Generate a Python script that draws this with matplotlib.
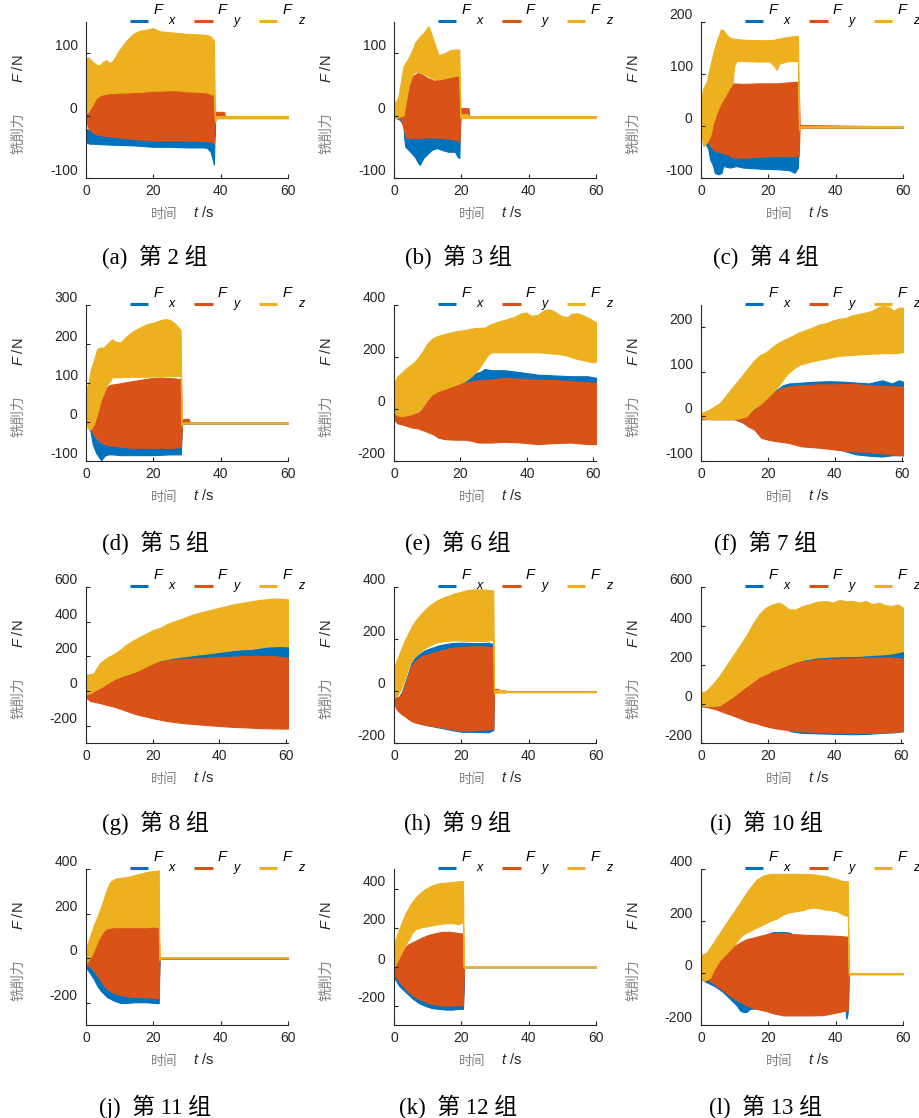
import matplotlib
matplotlib.use("Agg")
import matplotlib.pyplot as plt

plt.rcParams["font.family"] = ["Liberation Sans", "Noto Sans CJK SC"]
plt.rcParams["mathtext.fontset"] = "custom"
plt.rcParams["mathtext.it"] = "Liberation Sans:italic"
plt.rcParams["mathtext.rm"] = "Liberation Sans"

# ---------------------------------------------------------------------------
# Envelope of each force signal: time (s), upper edge and lower edge (N)
# ---------------------------------------------------------------------------
# (a) group 2
A_FX_T = [0, 0.5, 1, 2, 5, 10, 15, 20, 25, 30, 35, 36, 37, 38, 38.3, 60]
A_FX_HI = [-22, -22, -24, -28, -30, -30, -32, -33, -33, -33, -33, -33, -35, -40, -2, -2]
A_FX_LO = [-42, -44, -45, -45, -46, -47, -48, -50, -50, -51, -51, -52, -58, -78, -4, -4]
A_FY_T = [0, 0.5, 1, 2, 3, 4, 5, 10, 15, 20, 26, 30, 36, 37.5, 38, 38.3, 41, 41.3, 60]
A_FY_HI = [3, 4, 6, 20, 30, 33, 35, 38, 39, 40, 42, 39, 38, 35, 33, 6, 6, -1, -1]
A_FY_LO = [0, -18, -22, -27, -30, -31, -32, -35, -38, -40, -40, -40, -41, -42, -45, -2, -2, -3, -3]
A_FZ_T = [0, 0.5, 1, 2, 3, 4, 5, 6, 7, 8, 10, 12, 14, 16, 18, 20, 22, 26, 30, 34, 36, 37, 38, 38.3, 39, 60]
A_FZ_HI = [92, 93, 92, 86, 82, 80, 86, 89, 84, 88, 106, 120, 131, 136, 138, 140, 135, 133, 131, 130, 129, 127, 120, -1, -1, -1]
A_FZ_LO = [3, 6, 10, 18, 28, 32, 34, 35, 36, 36, 37, 37, 38, 38, 39, 40, 40, 41, 39, 38, 37, 35, 33, -10, -4, -4]

# (b) group 3
B_FX_T = [0, 1.8, 2.8, 3.1, 3.4, 4.3, 5.2, 6.2, 7.2, 7.7, 8.7, 10.2, 11.2, 12.7, 14.2, 16.1, 18.1, 18.9, 19.4, 19.7, 60]
B_FX_HI = [0, -3, -5, -25, -30, -30, -30, -30, -30, -30, -30, -30, -30, -30, -30, -30, -30, -30, -30, -1, -1]
B_FX_LO = [-2, -7, -15, -39, -50, -55, -60, -66, -76, -79, -68, -60, -55, -52, -55, -58, -58, -66, -68, -3, -3]
B_FY_T = [0, 2, 3, 3.5, 4, 5, 6, 7, 8, 10, 12, 14, 16, 18, 19.5, 19.7, 22.1, 22.4, 60]
B_FY_HI = [0, 1, 14, 36, 52, 60, 65, 68, 67, 60, 56, 58, 61, 64, 63, 12, 12, -1, -1]
B_FY_LO = [-2, -5, -23, -34, -36, -36, -36, -36, -36, -35, -35, -36, -37, -38, -42, 3, 3, -3, -3]
B_FZ_T = [0, 0.8, 1.3, 2.8, 4.3, 5.7, 6.2, 7.7, 8.7, 10.2, 10.7, 11.7, 13.2, 15.1, 16.6, 18.6, 19.4, 19.7, 22, 22.3, 60]
B_FZ_HI = [20, 25, 30, 79, 92, 108, 116, 127, 132, 143, 137, 121, 97, 100, 105, 106, 105, 2, 2, -1, -1]
B_FZ_LO = [-4, -4, -2, 0, 47, 68, 70, 70, 67, 63, 61, 59, 58, 60, 62, 64, 64, -4, -4, -4, -4]

# (c) group 4
C_FX_T = [0, 1.2, 2.2, 2.7, 3.6, 4.1, 5.1, 6.1, 6.6, 8.6, 10.5, 12.5, 17.4, 22.4, 26.3, 27.8, 28.8, 29.1, 60]
C_FX_HI = [-10, -20, -30, -40, -40, -40, -40, -40, -40, -40, -40, -40, -40, -40, -40, -40, -40, -1, -1]
C_FX_LO = [-12, -32, -45, -64, -77, -90, -93, -90, -77, -80, -77, -80, -82, -83, -85, -90, -80, -3, -3]
C_FY_T = [0, 2.2, 3.2, 4.1, 5.6, 7.1, 8.6, 9.4, 12.5, 17.4, 22.4, 28.3, 29.0, 29.3, 60]
C_FY_HI = [-10, -26, 6, 25, 41, 57, 75, 82, 81, 82, 82, 85, 85, 2, -1]
C_FY_LO = [-12, -32, -42, -48, -50, -53, -57, -60, -61, -59, -58, -58, -58, -3, -3]
C_FZ_T = [0, 0.7, 1.7, 2.7, 3.6, 4.6, 5.6, 5.9, 6.6, 7.1, 7.6, 8.6, 9.4, 9.8, 10.5, 12.5, 16.5, 20.4, 21.9, 22.4, 23.3, 25.3, 28.3, 28.8, 29.1, 29.5, 60]
C_FZ_HI = [50, 73, 85, 114, 139, 162, 180, 186, 184, 180, 175, 170, 168, 168, 167, 166, 165, 165, 166, 167, 168, 171, 173, 173, -2, 0, 0]
C_FZ_LO = [-10, -39, -32, -20, 6, 25, 41, 44, 52, 57, 63, 75, 82, 114, 125, 125, 124, 124, 114, 108, 120, 124, 125, 125, -8, -3, -3]

# (d) group 5
D_FX_T = [0, 1.3, 2, 3, 4, 4.5, 5.5, 6.5, 8, 10, 15, 20, 25, 28.2, 28.4, 60]
D_FX_HI = [3, -10, -30, -45, -50, -50, -50, -50, -50, -50, -50, -50, -50, -50, -2, -2]
D_FX_LO = [2, -23, -57, -79, -92, -98, -87, -83, -83, -85, -85, -85, -83, -83, -4, -4]
D_FY_T = [0, 1, 2, 3, 4, 5, 6, 7, 10, 14, 19, 22, 26, 28.2, 28.5, 30.5, 30.8, 60]
D_FY_HI = [0, 2, 8, 30, 55, 75, 87, 95, 99, 105, 112, 114, 112, 110, 8, 8, -1, -1]
D_FY_LO = [0, -15, -27, -40, -49, -55, -58, -60, -63, -66, -66, -66, -66, -64, -3, -3, -3, -3]
D_FZ_T = [0, 0.5, 0.8, 1.3, 2.3, 3.3, 4.3, 5.3, 6.3, 7.2, 7.7, 8.7, 10.2, 12.2, 14.2, 16.2, 18.2, 20.1, 22.1, 23.6, 25.1, 26.6, 28.1, 28.4, 29, 60]
D_FZ_HI = [80, 95, 105, 130, 157, 187, 191, 191, 200, 208, 212, 206, 204, 221, 234, 243, 251, 255, 261, 264, 261, 251, 236, -6, -1, -1]
D_FZ_LO = [11, -15, -17, -19, -6, 20, 54, 75, 97, 105, 115, 115, 115, 116, 116, 116, 116, 117, 117, 118, 118, 118, 118, -10, -4, -4]

# (e) group 6
E_FX_T = [0, 7.3, 8.3, 9.3, 10.3, 11.8, 13.3, 15.3, 18.3, 20.3, 22.3, 24.3, 26.3, 27.3, 29.3, 33.3, 38.3, 43.3, 48.3, 53.3, 58.3, 60.8]
E_FX_HI = [-20, -20, -6, 13, 34, 57, 70, 78, 92, 104, 120, 136, 145, 154, 149, 149, 141, 132, 129, 126, 126, 120]
E_FX_LO = [-35, -70, -75, -80, -85, -92, -104, -110, -113, -113, -115, -120, -124, -124, -124, -121, -124, -130, -126, -124, -130, -130]
E_FY_T = [0, 1, 2.3, 3.8, 5.3, 7.3, 8.3, 9.3, 10.3, 11.8, 13.3, 15.3, 18.3, 21.3, 23.3, 25.3, 29.3, 33.3, 38.3, 43.3, 48.3, 53.3, 58.3, 60.8]
E_FY_HI = [-8, -14, -14, -14, -14, -14, -1, 18, 39, 62, 75, 82, 90, 101, 106, 110, 113, 120, 116, 113, 111, 107, 103, 101]
E_FY_LO = [-40, -55, -59, -65, -71, -75, -80, -84, -90, -97, -110, -116, -118, -118, -122, -129, -129, -126, -129, -135, -131, -129, -135, -135]
E_FZ_T = [0, 1, 2.3, 3.8, 5.3, 6.8, 8.3, 9.8, 11.3, 12.8, 13.3, 15.3, 17.3, 18.3, 19.3, 21.3, 23.3, 24.3, 25.3, 27.3,
          28.3, 29.3, 31.3, 33.3, 36.3, 38.3, 39.8, 41.3, 43.3, 45.3, 46.8, 48.3, 50.3, 52.3, 53.3, 55.3, 57.3, 58.8, 60.3, 60.8]
E_FZ_HI = [101, 126, 139, 158, 171, 190, 215, 247, 269, 279, 281, 289, 295, 298, 300, 304, 309, 311, 312, 313,
           320, 327, 336, 343, 355, 368, 371, 358, 362, 381, 383, 375, 358, 353, 366, 368, 358, 349, 336, 336]
E_FZ_LO = [-14, -24, -27, -24, -20, -11, 5, 31, 56, 66, 69, 78, 88, 92, 96, 107, 126, 139, 152, 190,
           209, 218, 218, 218, 218, 218, 218, 218, 218, 216, 214, 213, 210, 205, 200, 192, 187, 182, 180, 183]

# (f) group 7
F_FX_T = [0, 10, 14, 16, 17.5, 19.5, 22.5, 24.5, 26.4, 30.4, 34.4, 38.3, 42.3, 46.2, 50.2, 54.2, 57.1, 59.1, 60.4]
F_FX_HI = [-4, -4, 5, 17, 26, 40, 59, 70, 74, 76, 78, 79, 78, 76, 74, 81, 74, 81, 78]
F_FX_LO = [-6, -6, -18, -26, -36, -44, -50, -53, -56, -63, -68, -71, -76, -85, -88, -90, -87, -87, -86]
F_FY_T = [0, 10, 12, 14, 16, 18, 20, 22, 24, 26, 30, 35, 40, 45, 50, 55, 60.4]
F_FY_HI = [-4, -4, 0, 7, 15, 30, 45, 55, 63, 67, 70, 72, 72, 73, 70, 68, 67]
F_FY_LO = [-6, -6, -11, -22, -30, -48, -52, -55, -57, -59, -67, -70, -74, -78, -80, -83, -88]
F_FZ_T = [0, 2.7, 5.6, 7.6, 9.6, 11.6, 13.6, 15.5, 17.5, 19.5, 21.5, 23.5, 25.4, 27.4, 29.4, 31.4,
          33.4, 35.3, 37.3, 39.3, 41.3, 43.3, 45.2, 47.2, 49.2, 51.2, 52.7, 54.2, 56.1, 57.6, 59.1, 60.4]
F_FZ_HI = [7, 16, 30, 48, 67, 85, 104, 122, 137, 144, 157, 167, 174, 181, 189, 194,
           200, 206, 209, 215, 219, 221, 227, 230, 233, 237, 244, 248, 246, 237, 244, 244]
F_FZ_LO = [-4, -6, -6, -6, -6, -4, 0, 17, 26, 40, 55, 72, 92, 106, 116, 120,
           124, 127, 130, 133, 136, 137, 138, 139, 140, 141, 141, 142, 142, 142, 143, 144]

# (g) group 8
G_FX_T = [0, 14.2, 18.2, 22.2, 26.2, 30.1, 34.1, 38.1, 42.1, 46.1, 50, 54, 58, 60.6]
G_FX_HI = [-25, 100, 144, 177, 192, 202, 212, 221, 231, 240, 244, 256, 260, 258]
G_FX_LO = [-30, -120, -140, -155, -170, -178, -184, -190, -196, -198, -202, -205, -207, -207]
G_FY_T = [0, 1.3, 2.3, 4.3, 6.3, 8.3, 10.2, 12.2, 14.2, 16.2, 18.2, 20.2, 22.2, 24.2, 28.2, 32.1, 36.1, 40.1, 44.1, 48.1, 52, 56, 60.6]
G_FY_HI = [-19, -8, 0, 19, 44, 67, 83, 96, 115, 135, 148, 160, 169, 177, 183, 188, 192, 196, 198, 202, 202, 202, 192]
G_FY_LO = [-38, -58, -62, -70, -81, -90, -102, -115, -129, -140, -148, -158, -165, -173, -183, -190, -196, -202, -207, -210, -214, -216, -217]
G_FZ_T = [0, 1.3, 2.3, 3.3, 4.3, 6.3, 8.3, 10.2, 12.2, 14.2, 16.2, 18.2, 20.2, 22.2, 24.2, 26.2, 28.2,
          30.1, 32.1, 34.1, 36.1, 38.1, 40.1, 42.1, 44.1, 46.1, 48.1, 50, 52, 54, 56, 58, 60.6]
G_FZ_HI = [96, 96, 102, 135, 163, 192, 212, 237, 269, 292, 313, 333, 352, 365, 385, 400, 413,
           427, 442, 452, 462, 471, 481, 490, 500, 506, 513, 519, 525, 529, 533, 533, 529]
G_FZ_LO = [-20, -12, 0, 10, 19, 44, 67, 83, 96, 108, 125, 144, 162, 177, 185, 192, 197,
           202, 207, 212, 216, 221, 226, 231, 236, 240, 242, 244, 250, 256, 258, 260, 258]

# (h) group 9
H_FX_T = [0, 1.3, 2.3, 3.3, 4.3, 5.2, 6.2, 7.7, 9.2, 11.2, 13.2, 15.1, 17.1, 20.1, 23.1, 26, 28, 29.5, 29.7, 60]
H_FX_HI = [-19, -25, -6, 32, 70, 108, 127, 144, 157, 166, 175, 180, 184, 186, 184, 184, 186, 180, -2, -2]
H_FX_LO = [-40, -65, -85, -95, -105, -115, -118, -125, -130, -135, -140, -145, -150, -157, -157, -158, -159, -150, -4, -4]
H_FY_T = [0, 0.1, 0.8, 1.3, 2.3, 3.3, 4.3, 5.2, 6.2, 8.2, 11.2, 14.2, 17.1, 20.1, 23.1, 26, 29, 29.5, 29.7, 31, 31.3, 60]
H_FY_HI = [-19, -19, -22, -25, -13, 25, 64, 96, 115, 134, 146, 157, 166, 169, 172, 172, 169, 169, 8, 8, -1, -1]
H_FY_LO = [-19, -51, -70, -78, -89, -98, -108, -115, -121, -127, -134, -140, -146, -153, -153, -149, -146, -146, -3, -3, -3, -3]
H_FZ_T = [0, 0.1, 0.3, 0.8, 1.3, 1.8, 2.3, 2.8, 3.3, 3.8, 4.8, 5.7, 6.2, 7.2, 8.2, 9.2, 10.2, 11.2, 12.2,
          13.2, 14.2, 15.1, 16.1, 17.1, 18.1, 20.1, 22.1, 24.1, 26, 28, 29, 29.5, 29.7, 31, 33, 33.3, 60]
H_FZ_HI = [96, 98, 102, 118, 134, 150, 166, 182, 197, 210, 236, 258, 268, 284, 299, 312, 325, 335, 344,
           351, 357, 362, 366, 371, 376, 382, 389, 391, 391, 389, 387, 386, 2, 4, 4, -1, -1]
H_FZ_LO = [0, -25, -24, -19, -10, 0, 16, 32, 51, 70, 108, 127, 132, 146, 156, 166, 172, 178, 185,
           189, 190, 192, 193, 195, 195, 194, 193, 193, 192, 194, 196, 196, -8, -6, -6, -4, -4]

# (i) group 10
I_FX_T = [0, 5, 7, 9, 11, 13, 15, 17, 19, 21, 23, 25, 27, 30, 34, 38, 42, 46, 50, 54, 58, 60.5]
I_FX_HI = [-10, -10, 2, 27, 52, 78, 103, 128, 146, 163, 175, 188, 203, 224, 236, 241, 244, 244, 248, 253, 260, 268]
I_FX_LO = [-12, -15, -30, -45, -60, -75, -85, -95, -105, -115, -120, -127, -140, -148, -150, -152, -154, -155, -153, -148, -145, -140]
I_FY_T = [0, 2.5, 4.5, 6.5, 8.5, 10.5, 12.5, 14.5, 16.5, 18.4, 20.4, 22.4, 24.4, 26.4, 28.4, 32.4, 36.4, 40.4, 44.4, 48.3, 52.3, 56.3, 60.5]
I_FY_HI = [-7, -7, -7, 5, 30, 55, 82, 107, 131, 148, 167, 180, 192, 205, 215, 222, 228, 232, 234, 236, 238, 240, 232]
I_FY_LO = [-7, -19, -27, -41, -53, -65, -79, -91, -99, -109, -118, -125, -130, -133, -138, -142, -144, -147, -147, -147, -147, -144, -138]
I_FZ_T = [0, 1.5, 3.5, 5.5, 7.5, 9.5, 11.5, 13.5, 15.5, 17.4, 19.4, 21.4, 23.4, 24.4, 26.4, 28.4,
          30.4, 32.4, 34.4, 37.4, 39.4, 41.4, 43.4, 45.4, 47.4, 49.4, 51.4, 53.3, 55.3, 57.3, 58.8, 60.5]
I_FZ_HI = [58, 67, 101, 144, 195, 246, 297, 349, 409, 460, 494, 511, 520, 511, 485, 485,
           503, 511, 523, 528, 520, 533, 528, 528, 520, 528, 511, 520, 506, 503, 511, 494]
I_FZ_LO = [-7, -10, -10, -7, 15, 38, 64, 90, 115, 139, 154, 172, 184, 191, 205, 218,
           226, 232, 238, 242, 244, 245, 246, 246, 247, 250, 252, 254, 256, 260, 265, 272]

# (j) group 11
J_FX_T = [0, 0.3, 1.3, 2.3, 3.3, 4.3, 5.3, 6.3, 8.2, 10.2, 12.2, 14.2, 18.2, 20.1, 21.6, 21.8, 60]
J_FX_HI = [-10, -20, -30, -40, -60, -80, -100, -110, -130, -140, -145, -145, -145, -145, -145, 1, 1]
J_FX_LO = [-25, -48, -70, -93, -123, -145, -160, -175, -190, -201, -201, -198, -198, -201, -202, -2, -2]
J_FY_T = [0, 0.3, 1.3, 2.3, 3.3, 4.3, 5.3, 6.3, 8.2, 10.2, 12.2, 14.2, 16.2, 18.2, 20.1, 21.6, 21.8, 60]
J_FY_HI = [-1, -16, 6, 36, 74, 104, 126, 137, 141, 141, 141, 141, 141, 141, 144, 141, 3, 3]
J_FY_LO = [-18, -30, -40, -55, -78, -100, -123, -138, -156, -165, -171, -174, -175, -175, -178, -180, -1, -1]
J_FZ_T = [0, 0.3, 1.3, 2.3, 3.3, 4.3, 5.3, 6.3, 7.2, 8.2, 8.7, 10.2, 12.2, 14.2, 16.2, 18.2, 20.1, 21.6, 21.8, 22.3, 60]
J_FZ_HI = [57, 57, 102, 147, 184, 222, 267, 312, 342, 352, 357, 360, 364, 372, 379, 387, 391, 394, 0, 4, 4]
J_FZ_LO = [-3, -18, 4, 34, 72, 102, 124, 135, 137, 139, 139, 139, 139, 139, 139, 139, 142, 139, -10, 0, 0]

# (k) group 12
K_FX_T = [0, 0.3, 1.5, 3.5, 5.4, 7.4, 9.4, 11.4, 13.3, 15.3, 17.3, 19.2, 20.2, 20.5, 20.8, 60]
K_FX_HI = [0, -20, -40, -60, -80, -100, -120, -140, -150, -150, -150, -150, -150, -150, -2, -2]
K_FX_LO = [-38, -64, -98, -132, -163, -188, -203, -214, -217, -221, -221, -217, -217, -217, -4, -4]
K_FY_T = [0, 0.3, 1, 1.5, 2.5, 3.5, 4.4, 6.4, 8.4, 10.4, 12.3, 14.3, 16.3, 18.3, 20.2, 20.5, 20.8, 60]
K_FY_HI = [4, 8, 20, 38, 72, 103, 115, 132, 149, 163, 171, 178, 178, 174, 169, 169, -1, -1]
K_FY_LO = [-4, -47, -64, -75, -98, -115, -132, -157, -174, -188, -195, -200, -200, -200, -197, -197, -3, -3]
K_FZ_T = [0, 0.3, 0.5, 1.5, 2.5, 3.5, 4.4, 4.9, 5.4, 6.4, 7.9, 9.4, 11.4, 13.3, 15.3, 17.3, 19.2, 20.2, 20.5, 20.7, 21.2, 60]
K_FZ_HI = [106, 120, 140, 191, 234, 277, 300, 319, 330, 353, 379, 399, 416, 426, 430, 433, 437, 438, 438, 0, 0, 0]
K_FZ_LO = [4, -4, 13, 47, 81, 115, 140, 157, 174, 191, 200, 205, 212, 217, 222, 222, 217, 226, 226, -8, -5, -5]

# (l) group 13
L_FX_T = [0, 1.7, 2.7, 3.7, 4.6, 6.6, 8.6, 10.6, 11.6, 12.5, 13.5, 14.5, 17.5, 19.5, 21.4, 24.4,
          26.4, 28.4, 32.3, 36.3, 40.2, 42.9, 43.2, 43.6, 43.9, 60]
L_FX_HI = [-18, -24, -28, -10, 30, 60, 90, 100, 105, 110, 115, 120, 133, 149, 157, 158,
           155, 139, 136, 135, 133, 130, 130, 130, -2, -2]
L_FX_LO = [-23, -36, -42, -48, -55, -74, -99, -125, -144, -150, -150, -138, -135, -135, -145, -150,
           -150, -150, -150, -150, -145, -140, -176, -150, -4, -4]
L_FY_T = [0, 2.5, 3.7, 5.6, 7.6, 9.6, 11.6, 13.5, 15.5, 17.5, 19.5, 21.4, 24.4, 28.4, 32.3, 36.3, 40.2, 43.2, 43.6, 43.9, 60]
L_FY_HI = [-20, -23, 9, 47, 73, 102, 117, 130, 136, 143, 149, 152, 153, 149, 146, 145, 143, 140, 140, -1, -1]
L_FY_LO = [-22, -29, -40, -58, -77, -97, -110, -125, -135, -141, -147, -155, -163, -163, -163, -162, -152, -144, -144, -3, -3]
L_FZ_T = [0, 0.7, 1.7, 2.7, 3.7, 4.6, 5.6, 6.6, 7.6, 8.6, 9.6, 10.6, 11.1, 12.5, 14.5, 16.5, 18.5,
          20.5, 22.4, 24.4, 26.4, 28.4, 30.3, 32.3, 34.3, 36.3, 37.3, 38.2, 40.2, 42.2, 43.6, 43.9, 44.3, 60]
L_FZ_HI = [66, 73, 79, 98, 117, 136, 155, 175, 194, 213, 232, 251, 260, 289, 327, 359, 375,
           381, 381, 381, 381, 381, 381, 380, 378, 374, 372, 368, 362, 353, 353, 0, 0, 0]
L_FZ_LO = [-20, -30, -25, -18, 12, 30, 50, 63, 76, 90, 104, 120, 130, 149, 162, 175, 187,
           200, 209, 225, 234, 238, 242, 251, 251, 245, 244, 242, 238, 225, 219, -10, -5, -5]

LETTERS = ["a", "b", "c", "d", "e", "f", "g", "h", "i", "j", "k", "l"]
GROUPS = [2, 3, 4, 5, 6, 7, 8, 9, 10, 11, 12, 13]
YLIMS = [(-100, 150), (-100, 150), (-100, 200), (-100, 300), (-200, 400), (-100, 250),
         (-300, 600), (-200, 400), (-200, 600), (-300, 400), (-300, 500), (-200, 400)]
YTICKS = [[-100, 0, 100], [-100, 0, 100], [-100, 0, 100, 200], [-100, 0, 100, 200, 300],
          [-200, 0, 200, 400], [-100, 0, 100, 200], [-200, 0, 200, 400, 600], [-200, 0, 200, 400],
          [-200, 0, 200, 400, 600], [-200, 0, 200, 400], [-200, 0, 200, 400], [-200, 0, 200, 400]]
XTICKS = [0, 20, 40, 60]

SERIES = [
    ((A_FX_T, A_FX_HI, A_FX_LO), (A_FY_T, A_FY_HI, A_FY_LO), (A_FZ_T, A_FZ_HI, A_FZ_LO)),
    ((B_FX_T, B_FX_HI, B_FX_LO), (B_FY_T, B_FY_HI, B_FY_LO), (B_FZ_T, B_FZ_HI, B_FZ_LO)),
    ((C_FX_T, C_FX_HI, C_FX_LO), (C_FY_T, C_FY_HI, C_FY_LO), (C_FZ_T, C_FZ_HI, C_FZ_LO)),
    ((D_FX_T, D_FX_HI, D_FX_LO), (D_FY_T, D_FY_HI, D_FY_LO), (D_FZ_T, D_FZ_HI, D_FZ_LO)),
    ((E_FX_T, E_FX_HI, E_FX_LO), (E_FY_T, E_FY_HI, E_FY_LO), (E_FZ_T, E_FZ_HI, E_FZ_LO)),
    ((F_FX_T, F_FX_HI, F_FX_LO), (F_FY_T, F_FY_HI, F_FY_LO), (F_FZ_T, F_FZ_HI, F_FZ_LO)),
    ((G_FX_T, G_FX_HI, G_FX_LO), (G_FY_T, G_FY_HI, G_FY_LO), (G_FZ_T, G_FZ_HI, G_FZ_LO)),
    ((H_FX_T, H_FX_HI, H_FX_LO), (H_FY_T, H_FY_HI, H_FY_LO), (H_FZ_T, H_FZ_HI, H_FZ_LO)),
    ((I_FX_T, I_FX_HI, I_FX_LO), (I_FY_T, I_FY_HI, I_FY_LO), (I_FZ_T, I_FZ_HI, I_FZ_LO)),
    ((J_FX_T, J_FX_HI, J_FX_LO), (J_FY_T, J_FY_HI, J_FY_LO), (J_FZ_T, J_FZ_HI, J_FZ_LO)),
    ((K_FX_T, K_FX_HI, K_FX_LO), (K_FY_T, K_FY_HI, K_FY_LO), (K_FZ_T, K_FZ_HI, K_FZ_LO)),
    ((L_FX_T, L_FX_HI, L_FX_LO), (L_FY_T, L_FY_HI, L_FY_LO), (L_FZ_T, L_FZ_HI, L_FZ_LO)),
]

COLORS = ["#0072BD", "#D95319", "#EDB120"]
SUBS = ["x", "y", "z"]
DARK = "#262626"
GRAY = "#808080"

# layout in pixels
W, H = 920, 1118
COL_X = [86, 394, 701]
ROW_Y = [22, 305, 587, 869]
AX_W, AX_H = 202, 156
CAP_X = [155, 458, 766]
CAP_Y = [257, 543, 823, 1107]


def add_legend(ax):
    """MATLAB-like horizontal legend sitting on top of the axes."""
    for k, (c, sub) in enumerate(zip(COLORS, SUBS)):
        x0 = 0.218 + 0.319 * k
        ax.plot([x0, x0 + 0.09], [1.006, 1.006], transform=ax.transAxes,
                color=c, lw=2.2, clip_on=False, solid_capstyle="butt")
        ax.text(x0 + 0.138, 1.050, "F", transform=ax.transAxes, style="italic",
                fontsize=10.5, color="black", ha="center", va="baseline")
        ax.text(x0 + 0.208, 0.990, sub, transform=ax.transAxes, style="italic",
                fontsize=9, color="black", ha="center", va="baseline")


def draw_panel(ax, i):
    tmax = 60
    for (t, hi, lo), c in zip(SERIES[i], COLORS):
        ax.fill_between(t, lo, hi, facecolor=c, edgecolor=c, linewidth=0.8)
        tmax = max(tmax, t[-1])

    ax.set_xlim(0, tmax)
    ax.set_ylim(*YLIMS[i])
    ax.set_xticks(XTICKS, [str(v) for v in XTICKS])
    ax.set_yticks(YTICKS[i], [str(v) for v in YTICKS[i]], va="bottom")

    for s in ("top", "right"):
        ax.spines[s].set_visible(False)
    for s in ("left", "bottom"):
        ax.spines[s].set_color(DARK)
        ax.spines[s].set_linewidth(0.8)
    ax.tick_params(direction="in", length=3, width=0.8, colors=DARK, labelsize=10)
    ax.tick_params(axis="y", pad=6)
    ax.tick_params(axis="x", pad=4)

    # axis labels (Chinese part in gray, symbol part dark)
    ax.text(-0.335, 0.70, "$F$ /N", transform=ax.transAxes, rotation=90,
            ha="center", va="center", fontsize=10.5, color=DARK)
    ax.text(-0.335, 0.29, "铣削力", transform=ax.transAxes, rotation=90,
            ha="center", va="center", fontsize=10, color=GRAY,
            family=["Noto Sans CJK SC", "DejaVu Sans"])
    ax.text(0.386, -0.237, "时间", transform=ax.transAxes, ha="center",
            va="center", fontsize=9.5, color=GRAY,
            family=["Noto Sans CJK SC", "DejaVu Sans"])
    ax.text(0.584, -0.218, "$t$ /s", transform=ax.transAxes, ha="center",
            va="center", fontsize=10.5, color=DARK)

    add_legend(ax)


fig = plt.figure(figsize=(W / 100, H / 100), dpi=100)

for i in range(12):
    r, c = divmod(i, 3)
    ax = fig.add_axes([COL_X[c] / W, 1 - (ROW_Y[r] + AX_H) / H, AX_W / W, AX_H / H])
    draw_panel(ax, i)
    fig.text(CAP_X[c] / W, 1 - CAP_Y[r] / H, f"({LETTERS[i]})  第 {GROUPS[i]} 组",
             ha="center", va="center", fontsize=16.5, color="black",
             family=["Liberation Serif", "Noto Sans CJK SC"])

fig.savefig("out.png", dpi=100)
